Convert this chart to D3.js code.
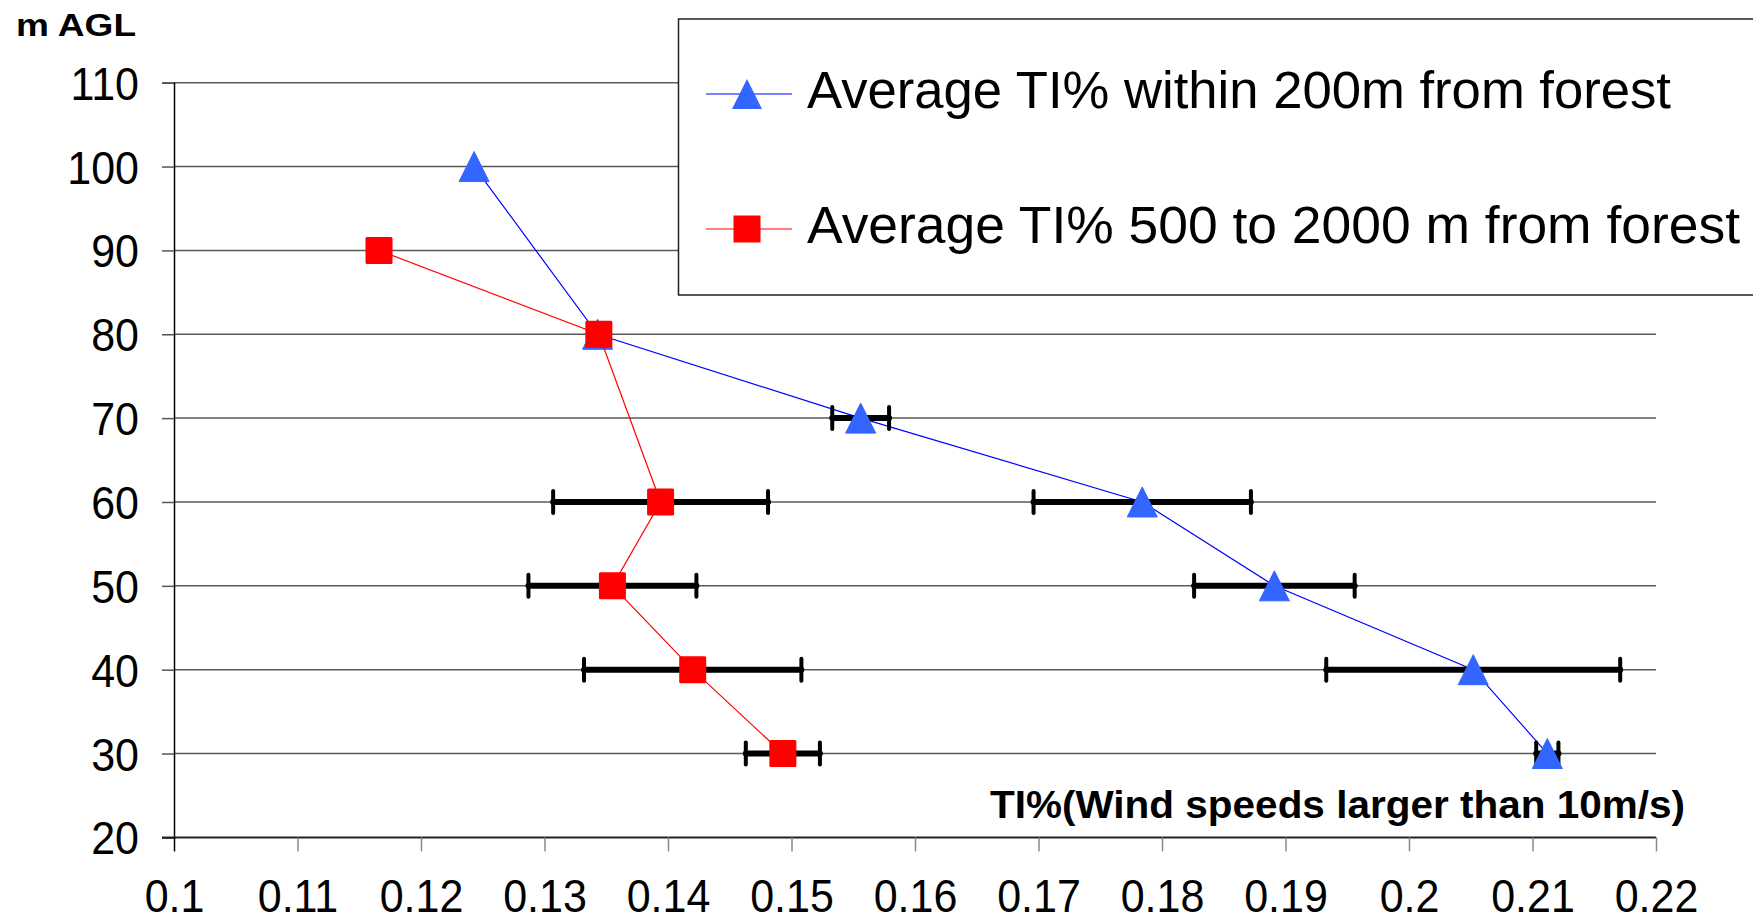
<!DOCTYPE html>
<html>
<head>
<meta charset="utf-8">
<script src="https://cdn.jsdelivr.net/npm/d3@7/dist/d3.min.js"></script>
<style>
  html, body { margin: 0; padding: 0; background: #fff; }
  svg { display: block; font-family: "Liberation Sans", Arial, sans-serif; }
</style>
</head>
<body>
<svg id="chart" width="1753" height="922"></svg>
<script>
// Heights above ground level (m) for each series
const heightsNear = [100, 80, 70, 60, 50, 40, 30];
const heightsFar  = [90, 80, 60, 50, 40, 30];

// Mean turbulence intensity (wind speeds > 10 m/s)
const tiNear = [0.1243, 0.1343, 0.1556, 0.1784, 0.1891, 0.2052, 0.2112];
const tiFar  = [0.1166, 0.1344, 0.1394, 0.1355, 0.1420, 0.1493];

// Symmetric error-bar half widths
const errNear = [0, 0, 0.0023, 0.0088, 0.0065, 0.0119, 0.0009];
const errFar  = [0.0004, 0, 0.0087, 0.0068, 0.0088, 0.0030];

// Axis ticks
const xTicks = [0.1, 0.11, 0.12, 0.13, 0.14, 0.15, 0.16, 0.17, 0.18, 0.19, 0.2, 0.21, 0.22];
const xTickLabels = ["0.1", "0.11", "0.12", "0.13", "0.14", "0.15", "0.16", "0.17", "0.18", "0.19", "0.2", "0.21", "0.22"];
const yTicks = [20, 30, 40, 50, 60, 70, 80, 90, 100, 110];

const seriesNames = ["Average TI% within 200m from forest", "Average TI% 500 to 2000 m from forest"];
const yTitle = "m AGL";
const xTitle = "TI%(Wind speeds larger than 10m/s)";

const svg = d3.select("#chart");

const x = d3.scaleLinear().domain([0.1, 0.22]).range([174, 1656]);
const y = d3.scaleLinear().domain([20, 110]).range([837.4, 82.7]);

const tickFont = 43;
const tickStretch = 1.07;   // tick digits are drawn slightly tall

// Horizontal gridlines
svg.append("g")
  .selectAll("line")
  .data(yTicks.filter(d => d !== 20))
  .join("line")
  .attr("x1", x(0.1)).attr("x2", x(0.22))
  .attr("y1", d => y(d)).attr("y2", d => y(d))
  .attr("stroke", "#5a5a5a").attr("stroke-width", 1.5);

// Y axis
const yAxis = svg.append("g")
  .attr("transform", `translate(${x(0.1)},0)`)
  .call(d3.axisLeft(y).tickValues(yTicks).tickSize(12).tickFormat(d3.format("d")));
yAxis.select(".domain").attr("stroke", "#000").attr("stroke-width", 1.5);
yAxis.selectAll(".tick line").attr("stroke", "#555").attr("stroke-width", 1.5);
yAxis.selectAll(".tick text")
  .attr("x", null).attr("y", null).attr("dy", null)
  .attr("text-anchor", "end")
  .attr("transform", `translate(-35,16.5) scale(1,${tickStretch})`)
  .attr("fill", "#000").attr("font-size", tickFont)
  .attr("font-family", "Liberation Sans, Arial, sans-serif");

// X axis
const xAxis = svg.append("g")
  .attr("transform", `translate(0,${y(20)})`)
  .call(d3.axisBottom(x).tickValues(xTicks).tickSize(14)
    .tickFormat((d, i) => xTickLabels[i]));
xAxis.select(".domain").attr("stroke", "#222").attr("stroke-width", 2)
  .attr("d", `M${x(0.1) - 12},0H${x(0.22)}`);
xAxis.selectAll(".tick line").attr("stroke", "#888").attr("stroke-width", 1.5);
xAxis.selectAll(".tick").filter(d => d === 0.1).select("line").attr("stroke", "#000");
xAxis.selectAll(".tick text")
  .attr("x", null).attr("y", null).attr("dy", null)
  .attr("transform", `translate(0,74.5) scale(1,${tickStretch})`)
  .attr("fill", "#000").attr("font-size", tickFont)
  .attr("font-family", "Liberation Sans, Arial, sans-serif");

// Axis titles
svg.append("text")
  .attr("x", 16).attr("y", 36)
  .attr("font-weight", "bold").attr("font-size", 32)
  .attr("textLength", 120).attr("lengthAdjust", "spacingAndGlyphs")
  .text(yTitle);

svg.append("text")
  .attr("x", 990).attr("y", 818)
  .attr("font-weight", "bold").attr("font-size", 39)
  .attr("textLength", 695).attr("lengthAdjust", "spacingAndGlyphs")
  .text(xTitle);

// Marker shapes
function trianglePath(cx, cy, s) {
  const h = s / 2;
  return `M${cx},${cy - h}L${cx + h},${cy + h}L${cx - h},${cy + h}Z`;
}

const near = heightsNear.map((h, i) => ({ h, v: tiNear[i], e: errNear[i] }));
const far = heightsFar.map((h, i) => ({ h, v: tiFar[i], e: errFar[i] }));

const line = d3.line().x(d => x(d.v)).y(d => y(d.h));

function drawErrorBars(data) {
  const g = svg.append("g")
    .attr("stroke", "#000").attr("stroke-linecap", "round");
  const withErr = data.filter(d => d.e > 0);
  g.selectAll("line.bar").data(withErr).join("line")
    .attr("class", "bar")
    .attr("x1", d => x(d.v - d.e)).attr("x2", d => x(d.v + d.e))
    .attr("y1", d => y(d.h)).attr("y2", d => y(d.h))
    .attr("stroke-width", 6);
  g.selectAll("line.capl").data(withErr).join("line")
    .attr("class", "capl")
    .attr("x1", d => x(d.v - d.e)).attr("x2", d => x(d.v - d.e))
    .attr("y1", d => y(d.h) - 11).attr("y2", d => y(d.h) + 11)
    .attr("stroke-width", 4);
  g.selectAll("line.capr").data(withErr).join("line")
    .attr("class", "capr")
    .attr("x1", d => x(d.v + d.e)).attr("x2", d => x(d.v + d.e))
    .attr("y1", d => y(d.h) - 11).attr("y2", d => y(d.h) + 11)
    .attr("stroke-width", 4);
}

// Near-forest series (blue triangles)
svg.append("path").datum(near)
  .attr("d", line).attr("fill", "none")
  .attr("stroke", "#0000ff").attr("stroke-width", 1.2);
drawErrorBars(near);
svg.append("g").selectAll("path").data(near).join("path")
  .attr("d", d => trianglePath(x(d.v), y(d.h), 30))
  .attr("fill", "#3366ff").attr("stroke", "#3366ff").attr("stroke-width", 1)
  .attr("stroke-linejoin", "round");

// Far-from-forest series (red squares)
svg.append("path").datum(far)
  .attr("d", line).attr("fill", "none")
  .attr("stroke", "#ff0000").attr("stroke-width", 1.2);
drawErrorBars(far);
svg.append("g").selectAll("rect").data(far).join("rect")
  .attr("x", d => x(d.v) - 13.5).attr("y", d => y(d.h) - 13.5)
  .attr("width", 27).attr("height", 27).attr("rx", 1.5)
  .attr("fill", "#ff0000");

// Legend
const legend = svg.append("g");
legend.append("rect")
  .attr("x", 678.5).attr("y", 19).attr("width", 1100).attr("height", 276)
  .attr("fill", "#fff").attr("stroke", "#222").attr("stroke-width", 1.5);

const legendRows = [
  { name: seriesNames[0], y: 94, len: 864, color: "#0000ff", fill: "#3366ff", shape: "tri" },
  { name: seriesNames[1], y: 229, len: 933, color: "#ff0000", fill: "#ff0000", shape: "sq" }
];
legendRows.forEach(r => {
  legend.append("line")
    .attr("x1", 706).attr("x2", 792).attr("y1", r.y).attr("y2", r.y)
    .attr("stroke", r.color).attr("stroke-width", 1.2);
  if (r.shape === "tri") {
    legend.append("path").attr("d", trianglePath(747, r.y, 30)).attr("fill", r.fill);
  } else {
    legend.append("rect").attr("x", 747 - 13.5).attr("y", r.y - 13.5)
      .attr("width", 27).attr("height", 27).attr("fill", r.fill);
  }
  legend.append("text")
    .attr("x", 807).attr("y", r.y + 13.5)
    .attr("font-size", 51).attr("fill", "#000")
    .attr("textLength", r.len).attr("lengthAdjust", "spacingAndGlyphs")
    .text(r.name);
});
</script>
</body>
</html>
